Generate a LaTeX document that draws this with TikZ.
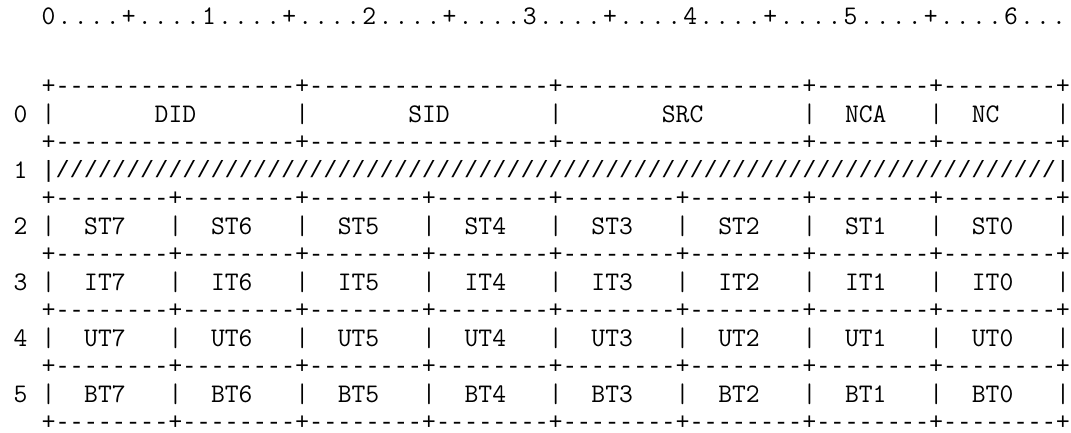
\documentclass[tikz,border=0pt]{standalone}
\usepackage{fontspec}
\newfontfamily\cour{Liberation Mono}[Ligatures=TeXOff]
\begin{document}
\begin{tikzpicture}[x=1pt,y=-1pt]
\useasboundingbox (0,0) rectangle (1071,433);
\def\cw{14.09}\def\xo{48.6}\def\bl{7.6}\def\lb{6.9}\def\rp{16.04}
\tikzset{
  tt/.style={font=\ttfamily\fontsize{26.84}{32}\selectfont,inner sep=0pt,outer sep=0pt,text=black},
  lt/.style={font=\cour\fontsize{23.48}{28}\selectfont,inner sep=0pt,outer sep=0pt,text=black,anchor=base west},
  run/.style={tt,anchor=base west},
  glyph/.style={tt,anchor=base}
}
% ruler
\foreach \c [count=\i from 0] in {0,.,.,.,.,+,.,.,.,.,1,.,.,.,.,+,.,.,.,.,2,.,.,.,.,+,.,.,.,.,3,.,.,.,.,+,.,.,.,.,4,.,.,.,.,+,.,.,.,.,5,.,.,.,.,+,.,.,.,.,6,.,.,.}
  \node[glyph] (r\i) at ({\xo+\rp*\i},{17+\bl}) {\c};
% border lines
\node[lt] (b0) at ({\xo-\cw/2},{87+\lb}) {+-----------------+-----------------+-----------------+--------+--------+};
\node[lt] (b1) at ({\xo-\cw/2},{87+2*28+\lb}) {+-----------------+-----------------+-----------------+--------+--------+};
\foreach \k in {4,6,8,10,12}
  \node[lt] (b\k) at ({\xo-\cw/2},{87+\k*28+\lb}) {+--------+--------+--------+--------+--------+--------+--------+--------+};
% row numbers
\foreach \r in {0,...,5}
  \node[glyph] (n\r) at ({\xo-2*\cw},{115+56*\r+\bl}) {\r};
% row 0
\foreach \c in {0,18,36,54,63,72}
  \node[glyph] (v0-\c) at ({\xo+\cw*\c},{115+\bl}) {|};
\node[glyph] (did) at ({\xo+\cw*9},{115+\bl}) {DID};
\node[glyph] (sid) at ({\xo+\cw*27},{115+\bl}) {SID};
\node[glyph] (src) at ({\xo+\cw*45},{115+\bl}) {SRC};
\node[glyph] (nca) at ({\xo+\cw*58},{115+\bl}) {NCA};
\node[glyph] (nc) at ({\xo+\cw*66.5},{115+\bl}) {NC};
% row 1
\node[lt] (slash) at ({\xo-\cw/2},{171+\lb}) {|///////////////////////////////////////////////////////////////////////|};
% rows 2-5
\foreach \p [count=\r from 2] in {ST,IT,UT,BT}{
  \foreach \c in {0,9,...,72}
    \node[glyph] (v\r-\c) at ({\xo+\cw*\c},{115+56*\r+\bl}) {|};
  \foreach \j in {0,...,7}{
    \pgfmathtruncatemacro{\num}{7-\j}
    \node[glyph] (t\r-\j) at ({\xo+\cw*(9*\j+4)},{115+56*\r+\bl}) {\p\num};
  }
}
\end{tikzpicture}
\end{document}
